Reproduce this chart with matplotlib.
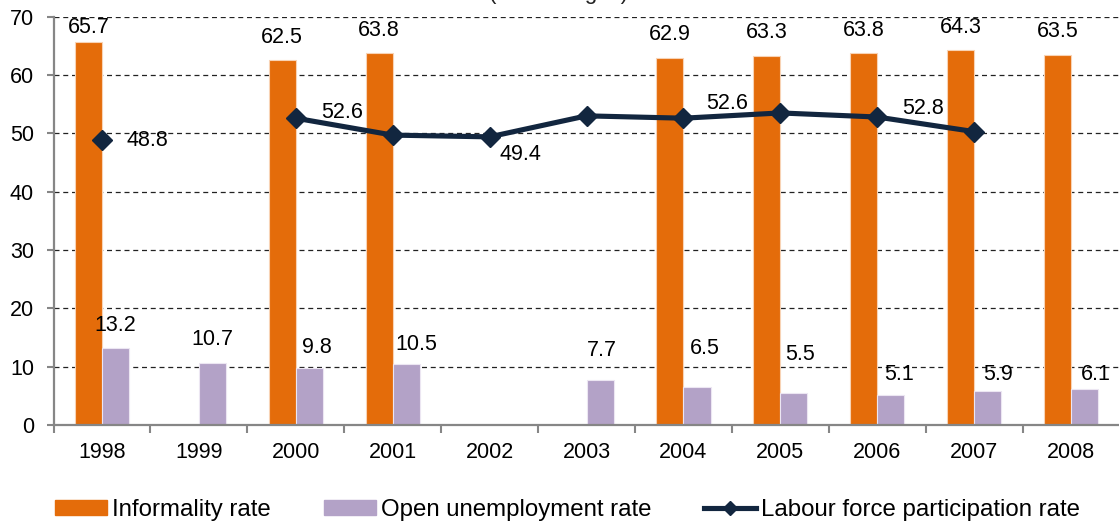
import numpy as np
import matplotlib
matplotlib.use("Agg")
import matplotlib.pyplot as plt
from matplotlib.patches import Patch
from matplotlib.lines import Line2D

plt.rcParams['font.family'] = ['Liberation Sans', 'DejaVu Sans']

# ---- data ----
years = ['1998', '1999', '2000', '2001', '2002', '2003', '2004', '2005', '2006', '2007', '2008']
informality = [65.7, np.nan, 62.5, 63.8, np.nan, np.nan, 62.9, 63.3, 63.8, 64.3, 63.5]
unemployment = [13.2, 10.7, 9.8, 10.5, np.nan, 7.7, 6.5, 5.5, 5.1, 5.9, 6.1]
participation = [48.8, np.nan, 52.6, 49.7, 49.4, 53.0, 52.6, 53.5, 52.8, 50.3, np.nan]
participation_labelled = [0, 2, 4, 6, 8]

series_names = ['Informality rate', 'Open unemployment rate', 'Labour force participation rate']
y_ticks = [0, 10, 20, 30, 40, 50, 60, 70]
subtitle = '(Percentages)'

# ---- label placement (pixels) ----
inf_dy = [14, 0, 23, 22.5, 0, 0, 23.5, 23.5, 22.5, 22.5, 23.5]
une_dx = [0, 0, 8, 10, 0, 2, 8, 6, 8, 10, 11]
une_dy = [23, 22.6, 20, 19.5, 0, 29.4, 38.8, 38.9, 20.3, 15.6, 15.4]
lfp_off = {0: (45, 0), 2: (46, 5.5), 4: (31, -18), 6: (44, 14.5), 8: (46, 9)}

ORANGE = '#E46C0A'
PURPLE = '#B3A2C7'
NAVY = '#12263F'
GRAY = '#868686'

W, H = 1119, 525
fig = plt.figure(figsize=(W / 100, H / 100), dpi=100)
ax = fig.add_axes([53.5 / W, 1 - 425 / H, 1066 / W, (425 - 16.7) / H])

x = np.arange(len(years))
bw = 0.28
ax.bar(x - bw / 2, informality, width=bw, color=ORANGE, edgecolor='#F8D3B5', linewidth=0.8, zorder=2)
ax.bar(x + bw / 2, unemployment, width=bw, color=PURPLE, edgecolor='#ECE6F2', linewidth=0.8, zorder=2)
ax.plot(x, participation, color=NAVY, lw=3.7, marker='D', markersize=10.5,
        markeredgecolor=NAVY, markerfacecolor=NAVY, zorder=4, solid_joinstyle='round')

fs = 15.5
for i, v in enumerate(informality):
    if not np.isnan(v):
        ax.annotate(f'{v:.1f}', (x[i] - bw / 2, v), xytext=(0, inf_dy[i]), textcoords='offset pixels',
                    ha='center', va='center', fontsize=fs, color='black', zorder=5, annotation_clip=False)
for i, v in enumerate(unemployment):
    if not np.isnan(v):
        ax.annotate(f'{v:.1f}', (x[i] + bw / 2, v), xytext=(une_dx[i], une_dy[i]), textcoords='offset pixels',
                    ha='center', va='center', fontsize=fs, color='black', zorder=5)
for i in participation_labelled:
    v = participation[i]
    dx, dy = lfp_off[i]
    ax.annotate(f'{v:.1f}', (x[i], v), xytext=(dx, dy), textcoords='offset pixels',
                ha='center', va='center', fontsize=fs, color='black', zorder=5)

ax.set_xlim(-0.5, len(years) - 0.5)
ax.set_ylim(0, 70)
ax.set_yticks(y_ticks)
ax.set_xticks(x)
ax.set_xticklabels(years)
ax.set_xticks(np.arange(-0.5, len(years) - 0.5, 1.0), minor=True)

ax.yaxis.grid(True, linestyle=(0, (4, 3)), color='#222222', linewidth=0.9, zorder=0)
ax.set_axisbelow(True)

for s in ['top', 'right']:
    ax.spines[s].set_visible(False)
for s in ['left', 'bottom']:
    ax.spines[s].set_color(GRAY)
    ax.spines[s].set_linewidth(1.6)
    ax.spines[s].set_zorder(3)

ax.tick_params(axis='y', which='major', length=5, width=1.5, color=GRAY, labelsize=fs, pad=9, direction='out')
ax.tick_params(axis='x', which='major', length=0, labelsize=fs, pad=12)
ax.tick_params(axis='x', which='minor', length=6, width=1.5, color=GRAY, direction='out')

handles = [Patch(facecolor=ORANGE, edgecolor=ORANGE),
           Patch(facecolor=PURPLE, edgecolor=PURPLE),
           Line2D([0], [0], color=NAVY, lw=3.7, marker='D', markersize=7.5)]
lfs = 17.3
em = lfs * 100 / 72
fig.legend(handles, series_names, loc='center left', bbox_to_anchor=(55 / W, 15 / H), ncol=3,
           frameon=False, fontsize=lfs, handlelength=52 / em, handleheight=0.6,
           handletextpad=5 / em, columnspacing=2.2, borderpad=0, borderaxespad=0)

fig.text(559 / W, 1 + 1.5 / H, subtitle, ha='center', va='baseline', fontsize=16, color='#222222')

fig.savefig('out.png', dpi=100)
